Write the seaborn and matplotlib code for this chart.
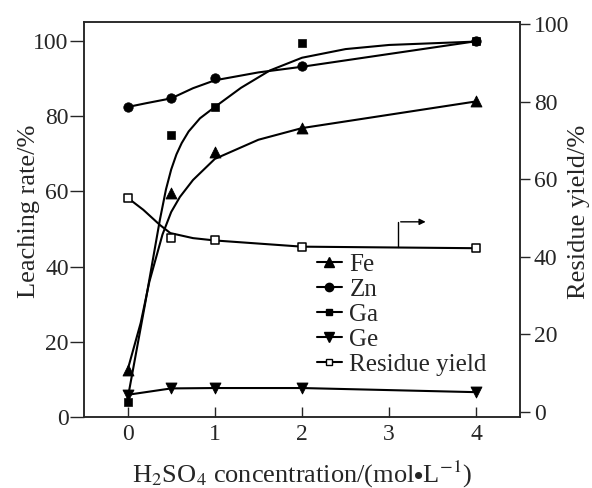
import numpy as np
import matplotlib
matplotlib.use("Agg")
import matplotlib.pyplot as plt
from matplotlib.lines import Line2D
import seaborn as sns

# --- Messwerte ---
conc = [0, 0.5, 1, 2, 4]
fe = [12.5, 59.5, 70.4, 76.9, 83.9]
zn = [82.4, 84.7, 90.1, 93.2, 99.9]
ga = [4.1, 75.0, 82.4, 99.5, 100.0]
ge = [5.9, 7.6, 7.7, 7.7, 6.6]
residue = [55.2, 44.9, 44.3, 42.6, 42.2]

# --- Ausgleichskurven ---
fe_fit_x = [0, 0.15, 0.25, 0.4, 0.5, 0.6, 0.75, 1.0, 1.5, 2.0, 4.0]
fe_fit_y = [12.5, 25.0, 36.0, 48.5, 54.5, 58.5, 63.0, 68.6, 73.7, 76.8, 83.9]
zn_fit_x = [0, 0.21, 0.5, 0.75, 1.0, 1.5, 2.0, 4.0]
zn_fit_y = [82.4, 83.4, 84.7, 87.4, 89.5, 91.6, 93.1, 99.9]
ga_fit_x = [0, 0.2, 0.37, 0.44, 0.5, 0.56, 0.62, 0.7, 0.83, 1.0, 1.3, 1.63, 2.0, 2.5, 3.0, 4.0]
ga_fit_y = [4.8, 30.0, 52.4, 60.5, 65.8, 69.8, 72.8, 75.9, 79.4, 82.4, 87.5, 92.1, 95.5, 97.8, 98.9, 99.8]
res_fit_x = [0, 0.18, 0.37, 0.49, 0.75, 1.0, 2.0, 4.0]
res_fit_y = [55.2, 52.1, 48.2, 46.1, 44.8, 44.2, 42.6, 42.2]

xticks = [0, 1, 2, 3, 4]
yticks = [0, 20, 40, 60, 80, 100]

# --- Stil ---
sns.set_style("ticks")
plt.rcParams["font.family"] = ["Liberation Serif", "DejaVu Serif"]
plt.rcParams["mathtext.fontset"] = "stix"

fig = plt.figure(figsize=(5.92, 4.88), dpi=100)
ax = fig.add_axes([84 / 592, 1 - 417 / 488, 436 / 592, 395 / 488])
ax2 = ax.twinx()

lw = 1.5
sns.lineplot(x=fe_fit_x, y=fe_fit_y, ax=ax, color="black", lw=lw)
sns.lineplot(x=zn_fit_x, y=zn_fit_y, ax=ax, color="black", lw=lw)
sns.lineplot(x=ga_fit_x, y=ga_fit_y, ax=ax, color="black", lw=lw)
sns.lineplot(x=conc, y=ge, ax=ax, color="black", lw=lw)

sns.scatterplot(x=conc, y=fe, ax=ax, marker="^", s=62, color="black", edgecolor="black", zorder=3)
sns.scatterplot(x=conc, y=zn, ax=ax, marker="o", s=46, color="black", edgecolor="black", zorder=3)
sns.scatterplot(x=conc, y=ga, ax=ax, marker="s", s=34, color="black", edgecolor="black", zorder=3)
sns.scatterplot(x=conc, y=ge, ax=ax, marker="v", s=62, color="black", edgecolor="black", zorder=3)

sns.lineplot(x=res_fit_x, y=res_fit_y, ax=ax2, color="black", lw=lw)
sns.scatterplot(x=conc, y=residue, ax=ax2, marker="s", s=26, facecolor="white",
                edgecolor="black", linewidth=1.1, zorder=3)

# Pfeil zur rechten Achse
ax2.plot([3.1, 3.1], [42.4, 49.0], color="black", lw=1)
ax2.annotate("", xy=(3.45, 49.0), xytext=(3.1, 49.0),
             arrowprops=dict(arrowstyle="-|>", color="black", lw=1, mutation_scale=9))

# --- Achsen ---
ax.set_xlim(-0.5, 4.5)
ax.set_ylim(0, 105)
ax2.set_ylim(-1.3, 100.5)
ax.set_xticks(xticks)
ax.set_yticks(yticks)
ax2.set_yticks(yticks)

fs = 17
ax.tick_params(axis="x", direction="in", length=7, width=1, labelsize=fs, pad=5)
ax.tick_params(axis="y", direction="out", length=10, width=1, labelsize=fs, pad=1)
ax2.tick_params(axis="y", direction="out", length=7, width=1, labelsize=fs, pad=3)
for a in (ax, ax2):
    for sp in a.spines.values():
        sp.set_linewidth(1.1)
        sp.set_visible(True)

lfs = 19
ax.set_xlabel(r"H$_2$SO$_4$ concentration/(mol$\bullet$L$^{-1}$)", fontsize=lfs)
ax.set_ylabel("Leaching rate/%", fontsize=lfs)
ax2.set_ylabel("Residue yield/%", fontsize=lfs)
ax.xaxis.set_label_coords(0.5, -0.105)
ax.yaxis.set_label_coords(-0.1, 0.52)
ax2.yaxis.set_label_coords(1.11, 0.52)

# --- Legende ---
handles = [
    Line2D([], [], color="black", lw=lw, marker="^", ms=7),
    Line2D([], [], color="black", lw=lw, marker="o", ms=6),
    Line2D([], [], color="black", lw=lw, marker="s", ms=5),
    Line2D([], [], color="black", lw=lw, marker="v", ms=7),
    Line2D([], [], color="black", lw=lw, marker="s", ms=5, mfc="white", mew=1),
]
labels = ["Fe", "Zn", "Ga", "Ge", "Residue yield"]
ax.legend(handles, labels, loc="upper left", bbox_to_anchor=(0.534, 0.415), frameon=False,
          fontsize=18, handlelength=1.0, handletextpad=0.3, labelspacing=0.1,
          borderaxespad=0, borderpad=0)

fig.savefig("out.png", dpi=100)
